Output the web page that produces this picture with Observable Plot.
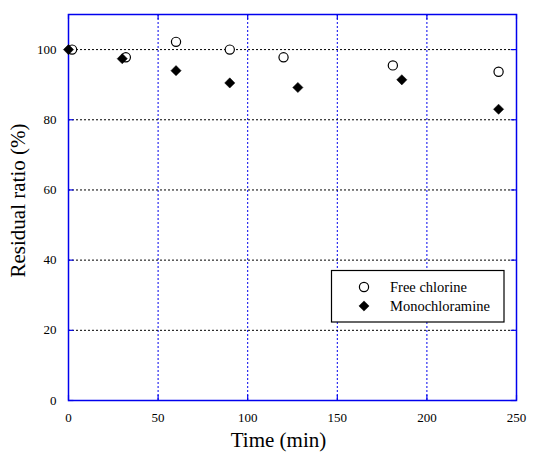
<!DOCTYPE html>
<html><head><meta charset="utf-8">
<script src="https://cdn.jsdelivr.net/npm/d3@7"></script>
<script src="https://cdn.jsdelivr.net/npm/@observablehq/plot@0.6"></script>
<style>body{margin:0;background:#fff}</style>
</head><body><div id="chart"></div>
<script>
const freeTime = [2, 32, 60, 90, 120, 181, 240];
const freeRatio = [100, 97.8, 102.2, 100, 97.8, 95.5, 93.7];
const monoTime = [0, 30, 60, 90, 128, 186, 240];
const monoRatio = [100, 97.4, 94, 90.5, 89.2, 91.4, 83];
const xTicks = [0, 50, 100, 150, 200, 250];
const yTicks = [0, 20, 40, 60, 80, 100];
const xGrid = [50, 100, 150, 200];
const yGrid = [20, 40, 60, 80, 100];
const seriesNames = ["Free chlorine", "Monochloramine"];
const xTitle = "Time (min)";
const yTitle = "Residual ratio (%)";

const free = freeTime.map((t, i) => ({t, r: freeRatio[i]}));
const mono = monoTime.map((t, i) => ({t, r: monoRatio[i]}));
const font = "'Liberation Serif', 'Times New Roman', serif";
const blue = "#0000ee";

const chart = Plot.plot({
  width: 544, height: 457,
  marginLeft: 68, marginRight: 28, marginTop: 14, marginBottom: 57,
  x: {domain: [0, 250]},
  y: {domain: [0, 110]},
  style: {fontFamily: font, background: "white", color: "black"},
  marks: [
    Plot.ruleX(xGrid, {x: d => d, stroke: blue, strokeDasharray: "2,2", strokeWidth: 1}),
    Plot.ruleY(yGrid, {y: d => d, stroke: "black", strokeDasharray: "2,2", strokeWidth: 1}),
    Plot.ruleX(xTicks, {x: d => d, y1: 0, y2: 1.5, stroke: blue, strokeWidth: 1.2}),
    Plot.ruleX(xTicks, {x: d => d, y1: 110, y2: 108.5, stroke: blue, strokeWidth: 1.2}),
    Plot.ruleY(yTicks, {y: d => d, x1: 0, x2: 3, stroke: blue, strokeWidth: 1.2}),
    Plot.ruleY(yTicks, {y: d => d, x1: 250, x2: 247, stroke: blue, strokeWidth: 1.2}),
    Plot.frame({stroke: blue, strokeWidth: 1.5}),
    Plot.axisX({ticks: xTicks, tickSize: 0, tickPadding: 12, fontSize: 13, label: null}),
    Plot.axisY({ticks: yTicks, tickSize: 0, tickPadding: 12, fontSize: 13, label: null}),
    Plot.text([xTitle], {frameAnchor: "bottom", textAnchor: "middle", dy: 46, dx: -14, fontSize: 21, fill: "black"}),
    Plot.text([yTitle], {frameAnchor: "left", textAnchor: "middle", rotate: -90, dx: -50, dy: -7, fontSize: 21, fill: "black"}),
    Plot.dot(free, {x: "t", y: "r", symbol: "circle", r: 4.6, fill: "white", stroke: "black", strokeWidth: 1.2}),
    Plot.dot(mono, {x: "t", y: "r", symbol: "diamond2", r: 4.6, fill: "black", stroke: "black", strokeWidth: 0.5})
  ]
});
document.getElementById("chart").appendChild(chart);

// legend
const svg = d3.select(chart);
const lg = svg.append("g").attr("font-family", font).attr("font-size", 14.5).attr("text-anchor", "start");
lg.append("rect").attr("x", 331.5).attr("y", 270.5).attr("width", 172.5).attr("height", 51.5)
  .attr("fill", "white").attr("stroke", "black").attr("stroke-width", 1.2);
lg.append("circle").attr("cx", 364).attr("cy", 287).attr("r", 4.6)
  .attr("fill", "white").attr("stroke", "black").attr("stroke-width", 1.2);
lg.append("path").attr("transform", "translate(364,306)")
  .attr("d", d3.symbol(d3.symbolDiamond2, Math.PI * 4.6 * 4.6)())
  .attr("fill", "black").attr("stroke", "black").attr("stroke-width", 0.5);
seriesNames.forEach((n, i) => {
  lg.append("text").attr("x", 390).attr("y", 287 + i * 19).attr("dy", "0.35em")
    .attr("text-anchor", "start").attr("fill", "black").text(n);
});
</script></body></html>
